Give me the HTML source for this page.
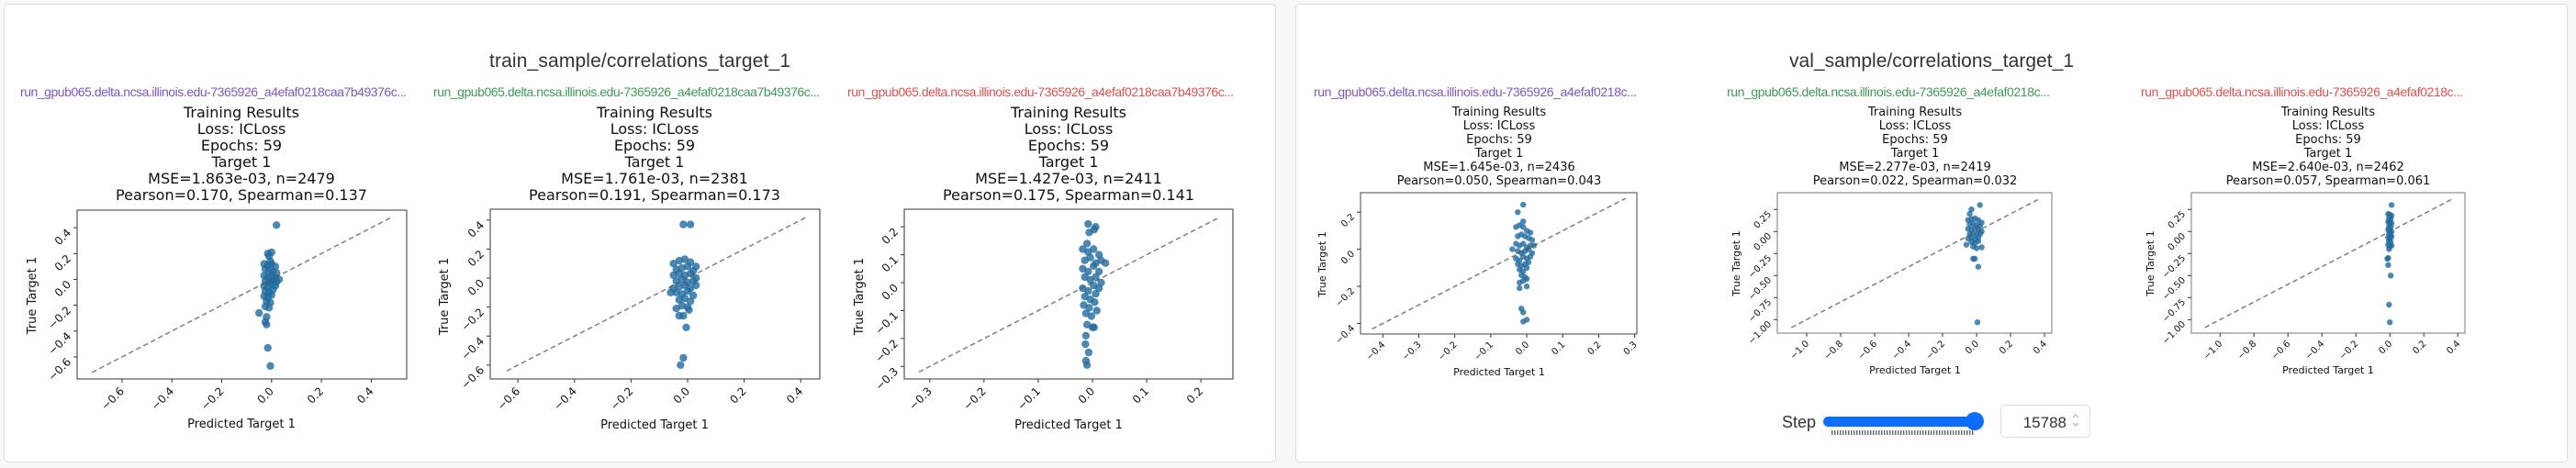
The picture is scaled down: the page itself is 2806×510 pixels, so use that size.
<!DOCTYPE html>
<html><head><meta charset="utf-8"><style>
html,body{margin:0;padding:0;background:#f7f7f7;}
svg{display:block;}
.mpl{font-family:"DejaVu Sans","Liberation Sans",sans-serif;fill:#111;}
.ui{font-family:"Liberation Sans",sans-serif;}
</style></head><body>
<svg id="root" width="2806" height="510" viewBox="0 0 2806 510" xmlns="http://www.w3.org/2000/svg">
<defs><pattern id="tickpat" width="3" height="6" patternUnits="userSpaceOnUse"><rect width="1.4" height="6" fill="#666"/></pattern></defs>
<rect x="4.5" y="4.5" width="1385" height="499" rx="4" fill="#fff" stroke="#ddd"/>
<rect x="1411.5" y="4.5" width="1385" height="499" rx="4" fill="#fff" stroke="#ddd"/>
<text class="ui" x="697" y="73" font-size="21" fill="#333" text-anchor="middle" textLength="328">train_sample/correlations_target_1</text>
<text class="ui" x="2104" y="73" font-size="21" fill="#333" text-anchor="middle" textLength="310">val_sample/correlations_target_1</text>

<!-- run labels -->
<text class="ui" x="22" y="105" font-size="14" fill="#7e57c2" textLength="421">run_gpub065.delta.ncsa.illinois.edu-7365926_a4efaf0218caa7b49376c...</text>
<text class="ui" x="472" y="105" font-size="14" fill="#3f9a55" textLength="421">run_gpub065.delta.ncsa.illinois.edu-7365926_a4efaf0218caa7b49376c...</text>
<text class="ui" x="923" y="105" font-size="14" fill="#e0504f" textLength="421">run_gpub065.delta.ncsa.illinois.edu-7365926_a4efaf0218caa7b49376c...</text>
<text class="ui" x="1431" y="105" font-size="14" fill="#7e57c2" textLength="352">run_gpub065.delta.ncsa.illinois.edu-7365926_a4efaf0218c...</text>
<text class="ui" x="1881" y="105" font-size="14" fill="#3f9a55" textLength="352">run_gpub065.delta.ncsa.illinois.edu-7365926_a4efaf0218c...</text>
<text class="ui" x="2332" y="105" font-size="14" fill="#e0504f" textLength="351">run_gpub065.delta.ncsa.illinois.edu-7365926_a4efaf0218c...</text>

<!-- plot titles -->
<g class="mpl" font-size="16" text-anchor="middle">
<text x="263" y="128">Training Results</text><text x="263" y="146">Loss: ICLoss</text><text x="263" y="164">Epochs: 59</text><text x="263" y="182">Target 1</text><text x="263" y="200">MSE=1.863e-03, n=2479</text><text x="263" y="218">Pearson=0.170, Spearman=0.137</text></g>
<g class="mpl" font-size="16" text-anchor="middle">
<text x="713" y="128">Training Results</text><text x="713" y="146">Loss: ICLoss</text><text x="713" y="164">Epochs: 59</text><text x="713" y="182">Target 1</text><text x="713" y="200">MSE=1.761e-03, n=2381</text><text x="713" y="218">Pearson=0.191, Spearman=0.173</text></g>
<g class="mpl" font-size="16" text-anchor="middle">
<text x="1164" y="128">Training Results</text><text x="1164" y="146">Loss: ICLoss</text><text x="1164" y="164">Epochs: 59</text><text x="1164" y="182">Target 1</text><text x="1164" y="200">MSE=1.427e-03, n=2411</text><text x="1164" y="218">Pearson=0.175, Spearman=0.141</text></g>
<g class="mpl" font-size="13" text-anchor="middle">
<text x="1633" y="126">Training Results</text><text x="1633" y="141">Loss: ICLoss</text><text x="1633" y="156">Epochs: 59</text><text x="1633" y="171">Target 1</text><text x="1633" y="186">MSE=1.645e-03, n=2436</text><text x="1633" y="201">Pearson=0.050, Spearman=0.043</text></g>
<g class="mpl" font-size="13" text-anchor="middle">
<text x="2086" y="126">Training Results</text><text x="2086" y="141">Loss: ICLoss</text><text x="2086" y="156">Epochs: 59</text><text x="2086" y="171">Target 1</text><text x="2086" y="186">MSE=2.277e-03, n=2419</text><text x="2086" y="201">Pearson=0.022, Spearman=0.032</text></g>
<g class="mpl" font-size="13" text-anchor="middle">
<text x="2536" y="126">Training Results</text><text x="2536" y="141">Loss: ICLoss</text><text x="2536" y="156">Epochs: 59</text><text x="2536" y="171">Target 1</text><text x="2536" y="186">MSE=2.640e-03, n=2462</text><text x="2536" y="201">Pearson=0.057, Spearman=0.061</text></g>

<!-- axis titles -->
<g class="mpl" text-anchor="middle">
<text x="263" y="466" font-size="13">Predicted Target 1</text>
<text x="713" y="467" font-size="13">Predicted Target 1</text>
<text x="1164" y="467" font-size="13">Predicted Target 1</text>
<text x="1633" y="409" font-size="11">Predicted Target 1</text>
<text x="2086" y="407" font-size="11">Predicted Target 1</text>
<text x="2536" y="407" font-size="11">Predicted Target 1</text>
<text font-size="13" transform="translate(39,322) rotate(-90)">True Target 1</text>
<text font-size="13" transform="translate(488,323) rotate(-90)">True Target 1</text>
<text font-size="13" transform="translate(940,323) rotate(-90)">True Target 1</text>
<text font-size="11" transform="translate(1444,288) rotate(-90)">True Target 1</text>
<text font-size="11" transform="translate(1895,287) rotate(-90)">True Target 1</text>
<text font-size="11" transform="translate(2346,287) rotate(-90)">True Target 1</text>
</g>

<g id="plots"></g>

<!-- step control -->
<g>
<text class="ui" x="1941" y="466" font-size="18" fill="#333">Step</text>
<rect x="1986" y="454" width="168" height="11" rx="5.5" fill="#0d6efd"/>
<rect x="1994" y="469" width="156" height="5" fill="url(#tickpat)"/>
<circle cx="2151" cy="459" r="10" fill="#0d6efd"/>
<rect x="2179.5" y="441.5" width="97" height="35" rx="4" fill="#fff" stroke="#ddd"/>
<text class="ui" x="2251" y="466" font-size="17" fill="#333" text-anchor="end">15788</text>
<path d="M2258 455 l3 -3 l3 3 M2258 461 l3 3 l3 -3" fill="none" stroke="#aaa" stroke-width="1"/>
</g>
</svg>
<script>
// ---- data: predicted (x) and true (y) values per panel ----
const t1X = [-0.03,-0.015,0,0.015,-0.025,-0.01,0.005,0.02,-0.03,-0.015,0,0.015,-0.025,-0.01,0.005,0.02,-0.03,-0.015,0,0.015,-0.025,-0.01,0.005,-0.03,-0.015,0,-0.02,-0.005,-0.025,-0.01,0.02,-0.015,0,-0.01,-0.05,-0.02,-0.025,-0.02,-0.015,-0.005,-0.005,0.03];
const t1Y = [0.12,0.11,0.12,0.1,0.08,0.07,0.06,0.05,0.03,0.02,0.03,0.01,-0.01,-0.02,-0.01,-0.02,-0.05,-0.06,-0.04,-0.05,-0.09,-0.1,-0.08,-0.13,-0.14,-0.12,-0.17,-0.18,-0.21,-0.22,0.42,0.2,0.21,0.18,-0.26,-0.29,-0.33,-0.35,-0.53,-0.67,0.14,0.0];
const t2X = [-0.05,-0.03,-0.01,0.01,0.03,-0.04,-0.02,0,0.02,-0.05,-0.03,-0.01,0.01,0.03,-0.04,-0.02,0,0.02,-0.05,-0.03,-0.01,0.01,0.03,-0.04,-0.02,0,0.02,-0.03,-0.01,0.01,-0.02,0,-0.015,0.01,-0.04,-0.03,-0.015,-0.005,-0.015,-0.025,0.005,-0.06];
const t2Y = [0.1,0.12,0.13,0.11,0.08,0.06,0.07,0.08,0.05,0.02,0.03,0.02,0.03,0.0,-0.02,-0.01,-0.03,-0.02,-0.07,-0.06,-0.05,-0.07,-0.05,-0.1,-0.11,-0.09,-0.12,-0.15,-0.14,-0.16,-0.19,-0.2,0.37,0.37,-0.21,-0.26,-0.26,-0.34,-0.55,-0.6,-0.22,-0.1];
const t3X = [-0.018,-0.008,0.002,0.012,-0.014,-0.004,0.006,0.016,-0.018,-0.008,0.002,0.012,-0.014,-0.004,0.006,0.016,-0.018,-0.008,0.002,0.012,-0.014,-0.004,0.006,-0.016,-0.006,0.004,-0.012,-0.002,0.008,-0.01,0,-0.008,0.006,-0.006,0.003,-0.01,-0.012,-0.013,-0.007,-0.012,-0.01,0.003,0.024];
const t3Y = [0.12,0.11,0.12,0.1,0.08,0.09,0.07,0.08,0.05,0.04,0.06,0.04,0.02,0.01,0.02,0.0,-0.02,-0.03,-0.01,-0.02,-0.05,-0.06,-0.04,-0.08,-0.09,-0.07,-0.11,-0.12,-0.1,-0.15,-0.16,0.21,0.2,0.18,0.19,0.14,-0.19,-0.22,-0.25,-0.28,-0.295,-0.16,0.07];
const v1X = [-0.03,-0.02,-0.01,0,0.01,-0.025,-0.015,-0.005,0.005,0.015,-0.03,-0.02,-0.01,0,0.01,-0.025,-0.015,-0.005,0.005,0.015,-0.03,-0.02,-0.01,0,0.01,-0.025,-0.015,-0.005,0.005,-0.02,-0.01,0,-0.015,-0.005,-0.02,-0.01,0,-0.01,-0.025,-0.01,-0.02,0.0,-0.015,-0.01,0.0,-0.01,0.02,-0.04];
const v1Y = [0.12,0.13,0.12,0.1,0.09,0.07,0.08,0.07,0.06,0.05,0.03,0.02,0.03,0.01,0.02,-0.01,-0.02,-0.01,0.0,-0.02,-0.05,-0.06,-0.04,-0.05,-0.04,-0.08,-0.09,-0.08,-0.07,-0.11,-0.12,-0.1,-0.14,-0.15,-0.18,-0.17,-0.16,0.24,0.2,0.15,-0.21,-0.2,-0.32,-0.34,-0.38,-0.39,0.02,0.0];
const v2X = [-0.05,-0.03,-0.01,0.01,0.03,-0.04,-0.02,0,0.02,-0.05,-0.03,-0.01,0.01,0.03,-0.04,-0.02,0,0.02,-0.05,-0.03,-0.01,0.01,-0.03,-0.01,0.01,-0.02,0,0.02,-0.03,-0.04,-0.02,-0.01,0.01,0.005,-0.06,0.03];
const v2Y = [0.13,0.14,0.15,0.13,0.1,0.08,0.09,0.07,0.06,0.03,0.02,0.04,0.02,0.0,-0.03,-0.02,-0.04,-0.03,-0.08,-0.07,-0.09,-0.07,-0.12,-0.13,-0.11,-0.17,-0.19,0.3,0.25,0.2,-0.31,-0.31,-0.4,-1.03,-0.15,-0.18];
const v3X = [-0.01,0,0.01,-0.005,0.005,-0.01,0,0.01,-0.005,0.005,-0.01,0,0.01,-0.005,0.005,-0.01,0,0.01,-0.005,0.005,-0.01,0.0,0.01,-0.005,0.01,-0.01,-0.01,-0.015,0.005,-0.005,0.0];
const v3Y = [0.2,0.19,0.18,0.15,0.14,0.11,0.1,0.09,0.06,0.05,0.02,0.01,0.0,-0.03,-0.04,-0.07,-0.08,-0.06,-0.11,-0.12,-0.15,-0.17,-0.16,-0.2,0.3,-0.3,-0.38,-0.31,-0.5,-0.83,-1.03];
// ---- tick values & labels ----
const tickA = [-0.6,-0.4,-0.2,0,0.2,0.4];
const tickALabels = ["\u22120.6","\u22120.4","\u22120.2","0.0","0.2","0.4"];
const tickB = [-0.3,-0.2,-0.1,0,0.1,0.2];
const tickBLabels = ["\u22120.3","\u22120.2","\u22120.1","0.0","0.1","0.2"];
const tickCx = [-0.4,-0.3,-0.2,-0.1,0,0.1,0.2,0.3];
const tickCxLabels = ["\u22120.4","\u22120.3","\u22120.2","\u22120.1","0.0","0.1","0.2","0.3"];
const tickCy = [-0.4,-0.2,0,0.2];
const tickCyLabels = ["\u22120.4","\u22120.2","0.0","0.2"];
const tickDx = [-1.0,-0.8,-0.6,-0.4,-0.2,0,0.2,0.4];
const tickDxLabels = ["\u22121.0","\u22120.8","\u22120.6","\u22120.4","\u22120.2","0.0","0.2","0.4"];
const tickDy = [-1.0,-0.75,-0.5,-0.25,0,0.25];
const tickDyLabels = ["\u22121.00","\u22120.75","\u22120.50","\u22120.25","0.00","0.25"];
const diagA=[-0.72,0.48], diagB=[-0.64,0.42], diagC=[-0.32,0.235], diagD=[-0.43,0.275], diagE=[-1.09,0.37];

// ---- layout (pixels / domains) ----
const panels = [
 {n:'train-1',x0:84,x1:443,y0:229,y1:413,xd:[-0.78,0.542],yd:[0.536,-0.771],X:t1X,Y:t1Y,xt:tickA,xl:tickALabels,yt:tickA,yl:tickALabels,dg:diagA,r:4.2,fs:12,sp:'#333'},
 {n:'train-2',x0:534,x1:893,y0:228,y1:413,xd:[-0.698,0.4675],yd:[0.475,-0.696],X:t2X,Y:t2Y,xt:tickA,xl:tickALabels,yt:tickA,yl:tickALabels,dg:diagB,r:4.2,fs:12,sp:'#333'},
 {n:'train-3',x0:985,x1:1343,y0:228,y1:413,xd:[-0.347,0.259],yd:[0.263,-0.345],X:t3X,Y:t3Y,xt:tickB,xl:tickBLabels,yt:tickB,yl:tickBLabels,dg:diagC,r:4.2,fs:12,sp:'#333'},
 {n:'val-1',x0:1482,x1:1783,y0:210,y1:364,xd:[-0.462,0.306],yd:[0.305,-0.457],X:v1X,Y:v1Y,xt:tickCx,xl:tickCxLabels,yt:tickCy,yl:tickCyLabels,dg:diagD,r:3.2,fs:10,sp:'#444'},
 {n:'val-2',x0:1936,x1:2235,y0:210,y1:363,xd:[-1.173,0.443],yd:[0.44,-1.153],X:v2X,Y:v2Y,xt:tickDx,xl:tickDxLabels,yt:tickDy,yl:tickDyLabels,dg:diagE,r:3.2,fs:10,sp:'#777'},
 {n:'val-3',x0:2387,x1:2685,y0:210,y1:363,xd:[-1.169,0.442],yd:[0.44,-1.153],X:v3X,Y:v3Y,xt:tickDx,xl:tickDxLabels,yt:tickDy,yl:tickDyLabels,dg:diagE,r:3.2,fs:10,sp:'#777'}
];
const NS='http://www.w3.org/2000/svg';
const host=document.getElementById('plots');
function mk(tag,attrs,parent){const e=document.createElementNS(NS,tag);for(const k in attrs)e.setAttribute(k,attrs[k]);parent.appendChild(e);return e;}
panels.forEach(p=>{
  const sx=v=>p.x0+(v-p.xd[0])/(p.xd[1]-p.xd[0])*(p.x1-p.x0);
  const sy=v=>p.y0+(v-p.yd[0])/(p.yd[1]-p.yd[0])*(p.y1-p.y0);
  const g=mk('g',{},host);
  
  
  const pg=mk('g',{},g);
  
  
  for(let i=0;i<p.X.length;i++){
    const c=mk('circle',{cx:sx(p.X[i]).toFixed(1),cy:sy(p.Y[i]).toFixed(1),r:p.r,fill:'#1f6a9e','fill-opacity':0.8},pg);
    
    
  }
  const d=mk('line',{x1:sx(p.dg[0]),y1:sy(p.dg[0]),x2:sx(p.dg[1]),y2:sy(p.dg[1]),stroke:'#555','stroke-opacity':0.75,'stroke-width':1.5,'stroke-dasharray':'5.5,3.5'},g);
  
  
  const f=mk('rect',{x:p.x0,y:p.y0,width:p.x1-p.x0,height:p.y1-p.y0,fill:'none',stroke:p.sp,'stroke-width':1},g);
  
  
  p.xt.forEach((v,i)=>{
    const x=sx(v);
    mk('line',{x1:x,y1:p.y1,x2:x,y2:p.y1+4,stroke:'#333'},g);
    const tx=x+3, ty=p.y1+p.fs+2;
    const t=mk('text',{x:tx,y:ty,'text-anchor':'end','font-size':p.fs,class:'mpl',transform:`rotate(-45 ${tx} ${ty})`},g);
    t.textContent=p.xl[i];
    
    
  });
  p.yt.forEach((v,i)=>{
    const y=sy(v);
    mk('line',{x1:p.x0-4,y1:y,x2:p.x0,y2:y,stroke:'#333'},g);
    const tx=p.x0-6, ty=y+p.fs*0.35+2;
    const t=mk('text',{x:tx,y:ty,'text-anchor':'end','font-size':p.fs,class:'mpl',transform:`rotate(-45 ${tx} ${ty})`},g);
    t.textContent=p.yl[i];
    
    
  });
});
</script>
</body></html>
